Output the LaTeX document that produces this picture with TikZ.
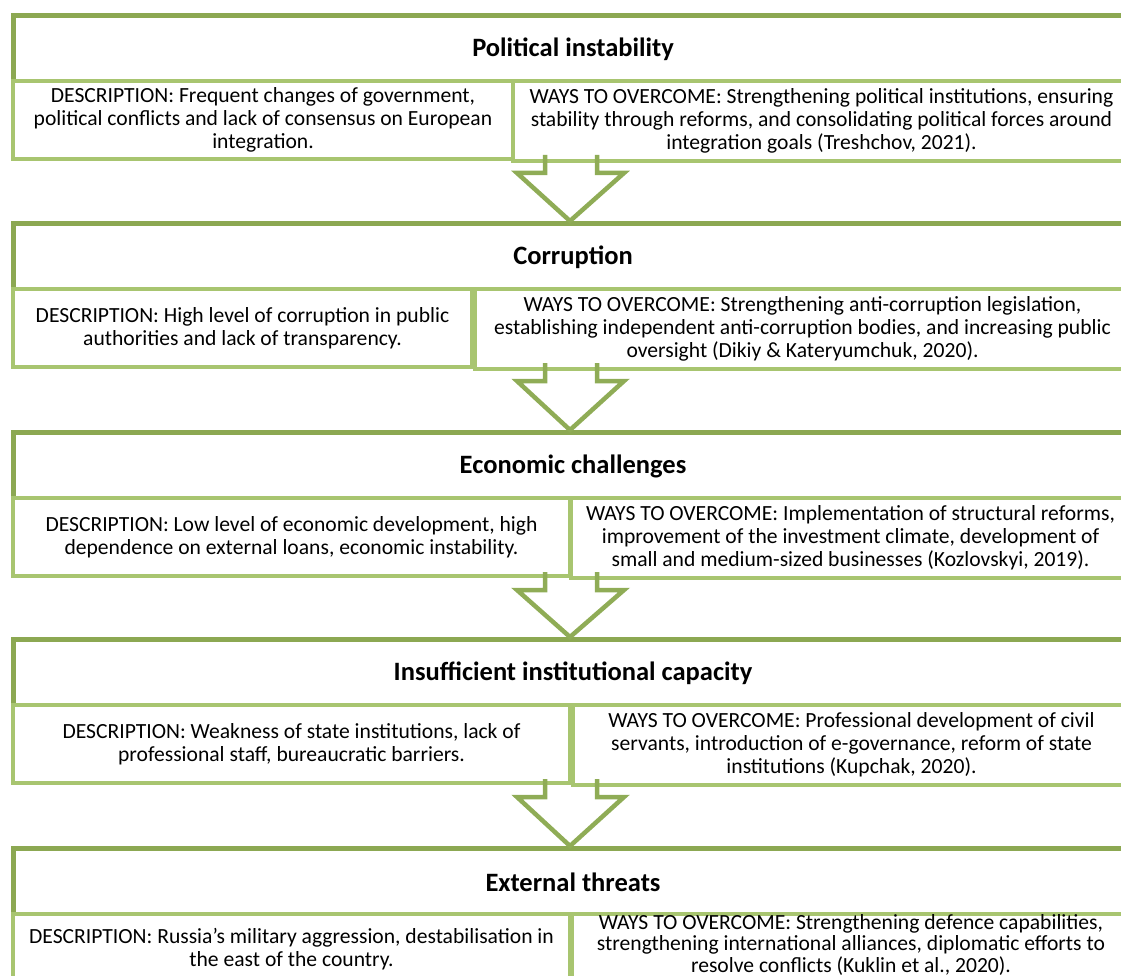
\documentclass[tikz,border=0pt]{standalone}
\usepackage{fontspec}
\setmainfont{Carlito}
\usetikzlibrary{calc}
\definecolor{outerc}{RGB}{140,168,82}
\definecolor{subc}{RGB}{168,197,112}
\definecolor{arrc}{RGB}{143,172,86}
\begin{document}
\begin{tikzpicture}[x=1pt,y=-1pt,
  outerbox/.style={draw=outerc,line width=5pt,fill=white,inner sep=0pt,anchor=north west},
  subbox/.style={draw=subc,line width=4pt,fill=white,inner sep=0pt,anchor=north west},
  titletext/.style={font=\fontsize{26.5}{30}\selectfont\bfseries,inner sep=0pt},
  bodytext/.style={font=\fontsize{21.6}{23}\selectfont,align=center,inner sep=0pt},
  arrowline/.style={draw=arrc,line width=4.5pt,line join=miter}]
\useasboundingbox (0,0) rectangle (1121,976);
% #1 id, #2 top, #3 desc right, #4 ways left
\newcommand\drawsec[4]{%
  \node[outerbox,minimum width=1119pt,minimum height=142pt] (s#1) at (11,#2) {};
  \node[subbox,minimum width={(#3-11)*1pt},minimum height=78pt] (d#1) at (11,#2+66) {};
  \node[subbox,minimum width={(1128-#4)*1pt},minimum height=80pt] (w#1) at (#4,#2+66) {};
}
\drawsec{1}{13}{511}{511}
\drawsec{2}{221}{470}{473}
\drawsec{3}{430}{568}{569}
\drawsec{4}{637}{568}{571}
\drawsec{5}{846}{568}{570}
% titles
\node[titletext] (t1) at ($(s1.north)!0.5!(d1.north -| s1.north)+(0,3)$) {Political instability};
\node[titletext] (t2) at ($(s2.north)!0.5!(d2.north -| s2.north)+(0,3)$) {Corruption};
\node[titletext] (t3) at ($(s3.north)!0.5!(d3.north -| s3.north)+(0,3)$) {Economic challenges};
\node[titletext] (t4) at ($(s4.north)!0.5!(d4.north -| s4.north)+(0,3)$) {Insufficient institutional capacity};
\node[titletext] (t5) at ($(s5.north)!0.5!(d5.north -| s5.north)+(0,3)$) {External threats};
% texts
\node[bodytext] (dt1) at (d1.center) {DESCRIPTION: Frequent changes of government,\\political conflicts and lack of consensus on European\\integration.};
\node[bodytext] (wt1) at (w1.center) {WAYS TO OVERCOME: Strengthening political institutions, ensuring\\stability through reforms, and consolidating political forces around\\integration goals (Treshchov, 2021).};
\node[bodytext] (dt2) at (d2.center) {DESCRIPTION: High level of corruption in public\\authorities and lack of transparency.};
\node[bodytext] (wt2) at (w2.center) {WAYS TO OVERCOME: Strengthening anti-corruption legislation,\\establishing independent anti-corruption bodies, and increasing public\\oversight (Dikiy \& Kateryumchuk, 2020).};
\node[bodytext] (dt3) at (d3.center) {DESCRIPTION: Low level of economic development, high\\dependence on external loans, economic instability.};
\node[bodytext] (wt3) at (w3.center) {WAYS TO OVERCOME: Implementation of structural reforms,\\improvement of the investment climate, development of\\small and medium-sized businesses (Kozlovskyi, 2019).};
\node[bodytext] (dt4) at (d4.center) {DESCRIPTION: Weakness of state institutions, lack of\\professional staff, bureaucratic barriers.};
\node[bodytext] (wt4) at (w4.center) {WAYS TO OVERCOME: Professional development of civil\\servants, introduction of e-governance, reform of state\\institutions (Kupchak, 2020).};
\node[bodytext] (dt5) at ($(d5.center)+(0,-4)$) {DESCRIPTION: Russia's military aggression, destabilisation in\\the east of the country.};
\node[bodytext,font=\fontsize{21.6}{21.5}\selectfont,anchor=south] (wt5) at (w5.center |- 0,975.5) {WAYS TO OVERCOME: Strengthening defence capabilities,\\strengthening international alliances, diplomatic efforts to\\resolve conflicts (Kuklin et al., 2020).};
% block arrows
\foreach \a/\b in {1/2,2/3,3/4,4/5}{
  \coordinate (tip\a) at (570,0 |- s\b.north);
  \coordinate (base\a) at ($(w\a.south)+(0,-8)$);
  \draw[arrowline] (base\a -| 545,0) -- ++(0,18) -- ++(-28,0) -- (tip\a)
     -- ($(base\a -| 624,0)+(0,18)$) -- ++(-27,0) -- ++(0,-18);
}
\end{tikzpicture}
\end{document}
